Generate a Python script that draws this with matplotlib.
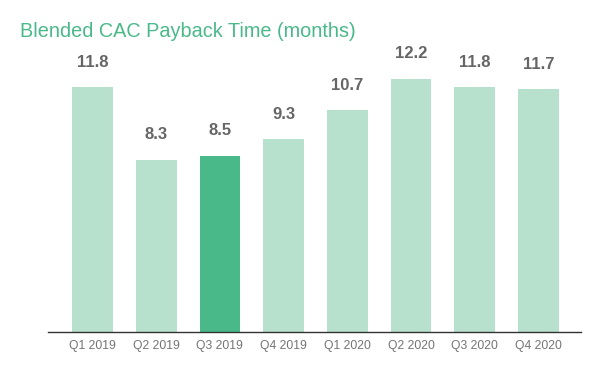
import matplotlib
matplotlib.use("Agg")
import matplotlib.pyplot as plt

categories = ["Q1 2019", "Q2 2019", "Q3 2019", "Q4 2019", "Q1 2020", "Q2 2020", "Q3 2020", "Q4 2020"]
values = [11.8, 8.3, 8.5, 9.3, 10.7, 12.2, 11.8, 11.7]
highlight = "Q3 2019"

light = "#b7e1cd"
dark = "#4ab98a"

plt.rcParams['font.family'] = ['Liberation Sans', 'DejaVu Sans']

fig = plt.figure(figsize=(6, 3.71), dpi=100)
ax = fig.add_axes([48/600, 39/371, 533/600, 332/371])

x = list(range(len(categories)))
colors = [dark if c == highlight else light for c in categories]
bars = ax.bar(x, values, width=0.64, color=colors, zorder=2)

ax.set_xlim(-0.7, 7.67)
ax.set_ylim(0, 16.0)

for b, v in zip(bars, values):
    ax.annotate(f"{v:.1f}", (b.get_x() + b.get_width()/2, v), xytext=(0, 12.5),
                textcoords="offset points", ha="center", va="bottom",
                fontsize=12, fontweight="bold", color="#666666")

ax.set_xticks(x)
ax.set_xticklabels(categories, fontsize=8.7, color="#757575")
ax.tick_params(axis="x", length=0, pad=5.5)
ax.set_yticks([])
for s in ["top", "right", "left"]:
    ax.spines[s].set_visible(False)
ax.spines["bottom"].set_color("#333333")
ax.spines["bottom"].set_linewidth(1.0)

fig.text(20/600, 1 - 37/371, "Blended CAC Payback Time (months)", fontsize=14.3,
         color="#4ab98a", ha="left", va="baseline")

fig.savefig("out.png", dpi=100)
